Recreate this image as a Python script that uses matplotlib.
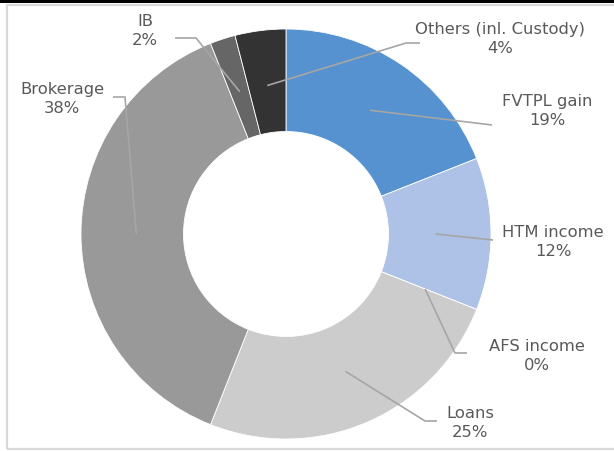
import matplotlib.pyplot as plt
import numpy as np
from matplotlib.patches import Rectangle

# revenue breakdown (percent)
names = ["FVTPL gain", "HTM income", "AFS income", "Loans", "Brokerage", "IB", "Others (inl. Custody)"]
shares = [19, 12, 0, 25, 38, 2, 4]
colors = ["#5592CF", "#ADC2E6", "#D9D9D9", "#CCCCCC", "#999999", "#666666", "#333333"]

# where each label sits (text centre) and where its leader line bends, pixel coords
label_xy = [(547, 341), (553, 210), (537, 96), (470, 29), (62, 353), (145, 421), (500, 413)]
elbow_xy = [(492, 326), (493, 211), (455, 98), (425, 30), (125, 354), (196, 413), (406, 408)]
stub_xy = [(492, 326), (493, 211), (467, 98), (437, 30), (113, 354), (175, 413), (420, 408)]

W, H = 614, 452
cx, cy, R = 286, 452 - 235, 205

fig = plt.figure(figsize=(6.14, 4.52), dpi=100)
ax = fig.add_axes([0, 0, 1, 1])

# frame + black rule at top
ax.add_patch(Rectangle((7, 2), W + 10, 444, fill=False, ec="#D9D9D9", lw=1.6))
ax.add_patch(Rectangle((0, 448), W, 4, fc="black", ec="none"))

wedges, _ = ax.pie(shares, colors=colors, startangle=90, counterclock=False,
                   radius=R, center=(cx, cy), frame=True,
                   wedgeprops=dict(width=R / 2, edgecolor="white", linewidth=0.6))
ax.set_xlim(0, W)
ax.set_ylim(0, H)
ax.set_aspect("auto")
ax.axis("off")

total = sum(shares)
start = 90.0
for i, (nm, v) in enumerate(zip(names, shares)):
    ang = start - 360.0 * (v / 2.0) / total
    start -= 360.0 * v / total
    rr = 0.73 * R
    px = cx + rr * np.cos(np.radians(ang))
    py = cy + rr * np.sin(np.radians(ang))
    ex, ey = elbow_xy[i]
    sx, sy = stub_xy[i]
    ax.plot([px, ex, sx], [py, ey, sy], color="#A6A6A6", lw=1.2, solid_capstyle="butt")
    lx, ly = label_xy[i]
    ax.text(lx, ly, f"{nm}\n{v}%", ha="center", va="center", fontsize=11.8,
            color="#595959", linespacing=1.35, family="DejaVu Sans")

fig.savefig("out.png", dpi=100)
